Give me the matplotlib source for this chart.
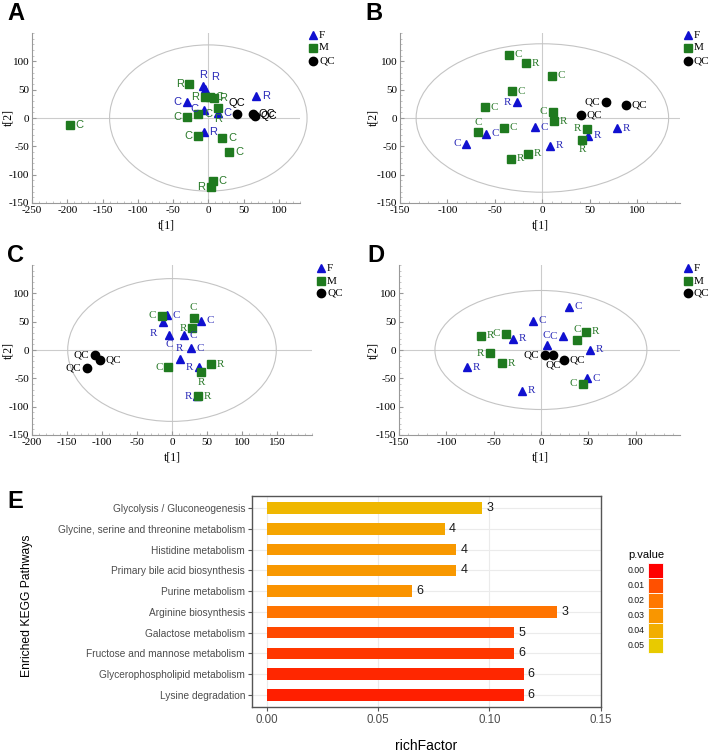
import matplotlib
matplotlib.use("Agg")
import matplotlib.pyplot as plt
from matplotlib.patches import Ellipse, Rectangle
from matplotlib.lines import Line2D
from matplotlib.ticker import MultipleLocator
from matplotlib.colors import LinearSegmentedColormap

plt.rcParams["axes.unicode_minus"] = False

# ---- score plot data (t[1], t[2], label, label side) ----
a_f_x = [-8, -4, -30, -5.5, 13.5, -6.5, 68]
a_f_y = [57, 51, 28, 15, 8, -24, 38]
a_f_lab = ["R", "R", "C", "C", "C", "R", "R"]
a_f_side = ["a", "ar", "l", "l", "r", "r", "r"]
a_m_x = [-196, -27, -30.5, -14, -5, 2, 8, 13.5, -14, 20, 30, 6, 4]
a_m_y = [-13, 60, 1, 7, 37, 37, 35, 17, -31, -35, -60, -112, -122]
a_m_lab = ["C", "R", "C", "C", "R", "C", "R", "R", "C", "C", "C", "C", "R"]
a_m_side = ["r", "l", "l", "r", "l", "r", "r", "b", "l", "r", "r", "r", "l"]
a_qc_x = [40, 63, 66]
a_qc_y = [7, 7, 4]
a_qc_lab = ["QC", "QC", "QC"]
a_qc_side = ["a", "r", "r"]

b_f_x = [-27, -8, -59, -80, 8, 48, 79]
b_f_y = [28, -16, -28, -45, -49, -31, -18]
b_f_lab = ["R", "C", "C", "C", "R", "R", "R"]
b_f_side = ["l", "r", "r", "l", "r", "r", "r"]
b_m_x = [-35, -17, 10, -32, -60, 11, 12, -40, -68, 47, 42, -15, -33]
b_m_y = [112, 97, 75, 47, 19, 11, -6, -17, -25, -19, -38, -63, -72]
b_m_lab = ["C", "R", "C", "C", "C", "C", "R", "C", "C", "R", "R", "R", "R"]
b_m_side = ["r", "r", "r", "r", "r", "l", "r", "r", "a", "l", "b", "r", "r"]
b_qc_x = [67, 88, 41]
b_qc_y = [29, 23, 6]
b_qc_lab = ["QC", "QC", "QC"]
b_qc_side = ["l", "r", "r"]

c_f_x = [-6.6, -13, -4, 17, 41, 27, 11, 38, 36]
c_f_y = [61, 50, 27, 26, 52, 3, -15, -30, -82]
c_f_lab = ["C", "R", "C", "C", "C", "C", "R", "R", "R"]
c_f_side = ["r", "bl", "b", "r", "r", "r", "a", "l", "l"]
c_m_x = [-14.5, 31, 29, -5.6, 56, 42, 37]
c_m_y = [60, 57, 38, -30, -25, -39, -82]
c_m_lab = ["C", "C", "R", "C", "R", "R", "R"]
c_m_side = ["l", "a", "l", "l", "r", "b", "r"]
c_qc_x = [-110, -103, -122]
c_qc_y = [-9, -18, -32]
c_qc_lab = ["QC", "QC", "QC"]
c_qc_side = ["l", "r", "l"]

d_f_x = [30, -8, -29, 6, 23, 52, -78, 49, -20]
d_f_y = [76, 52, 20, 8, 24, 0, -30, -50, -72]
d_f_lab = ["C", "C", "R", "C", "C", "R", "R", "C", "R"]
d_f_side = ["r", "r", "r", "a", "l", "r", "r", "r", "r"]
d_m_x = [-63, -37, -54, -41, 38, 47.5, 44]
d_m_y = [25, 29, -6, -23, 18, 32, -60]
d_m_lab = ["R", "C", "R", "R", "C", "R", "C"]
d_m_side = ["r", "l", "l", "r", "a", "r", "l"]
d_qc_x = [4, 13, 24]
d_qc_y = [-9, -9, -18]
d_qc_lab = ["QC", "QC", "QC"]
d_qc_side = ["l", "b", "r"]

groups = ["F", "M", "QC"]

# ---- KEGG enrichment data ----
pathways = ["Glycolysis / Gluconeogenesis",
            "Glycine, serine and threonine metabolism",
            "Histidine metabolism",
            "Primary bile acid biosynthesis",
            "Purine metabolism",
            "Arginine biosynthesis",
            "Galactose metabolism",
            "Fructose and mannose metabolism",
            "Glycerophospholipid metabolism",
            "Lysine degradation"]
rich_factor = [0.0968, 0.0800, 0.0851, 0.0851, 0.0652, 0.1304, 0.1111, 0.1111, 0.1154, 0.1154]
counts = [3, 4, 4, 4, 6, 3, 5, 6, 6, 6]
p_values = [0.043, 0.036, 0.031, 0.031, 0.029, 0.019, 0.009, 0.007, 0.005, 0.004]
legend_p = [0.00, 0.01, 0.02, 0.03, 0.04, 0.05]

W, H = 709, 752
fig = plt.figure(figsize=(W / 100, H / 100), dpi=100)


def px_axes(l, t, r, b):
    return fig.add_axes([l / W, 1 - b / H, (r - l) / W, (b - t) / H])


def fx(x):
    return x / W


def fy(y):
    return 1 - y / H


SERIF = ["Liberation Serif", "DejaVu Serif"]
SANS = ["Liberation Sans", "DejaVu Sans"]
BLUE = "#1010d0"
GREEN = "#1f7a1f"
offsets = {"r": (4, 0, "left", "center"), "l": (-4, 0, "right", "center"),
           "a": (0, 4, "center", "bottom"), "b": (0, -4, "center", "top"),
           "ar": (4, 5, "left", "bottom"), "bl": (-4, -5, "right", "top")}
styles = {"F": ("^", BLUE, "#2a2ab8", 5.5),
          "M": ("s", GREEN, "#2a7a2a", 5.8),
          "QC": ("o", "black", "black", 6.0)}


def score_panel(box, xlim, xticks, ell, data, letter, letter_xy, t1_xy, t2_xy,
                leg_x, leg_y, lab_family):
    ax = px_axes(*box)
    ax.set_xlim(xlim)
    ax.set_ylim(-150, 150)
    ax.axhline(0, color="#cccccc", lw=0.8, zorder=0)
    ax.axvline(0, color="#cccccc", lw=0.8, zorder=0)
    ax.add_patch(Ellipse((0, 0), 2 * ell[0], 2 * ell[1], fill=False,
                         ec="#c4c4c4", lw=0.8, zorder=0, clip_on=False))
    for g, (xs, ys, labs, sides) in zip(groups, data):
        mk, col, tcol, ms = styles[g]
        ax.plot(xs, ys, mk, color=col, ms=ms, ls="none", zorder=3)
        for x, y, lab, s in zip(xs, ys, labs, sides):
            dx, dy, ha, va = offsets[s]
            ax.annotate(lab, (x, y), xytext=(dx, dy), textcoords="offset points",
                        ha=ha, va=va, fontsize=8, color=tcol,
                        family=lab_family, zorder=4)
    for sp in ["top", "right"]:
        ax.spines[sp].set_visible(False)
    for sp in ["left", "bottom"]:
        ax.spines[sp].set_color("#999999")
        ax.spines[sp].set_linewidth(0.8)
    ax.set_xticks(xticks)
    ax.set_yticks([-150, -100, -50, 0, 50, 100])
    ax.xaxis.set_minor_locator(MultipleLocator(10))
    ax.yaxis.set_minor_locator(MultipleLocator(10))
    ax.tick_params(which="major", direction="in", length=3, color="#999999",
                   labelsize=8, pad=2)
    ax.tick_params(which="minor", direction="in", length=1.5, color="#bbbbbb")
    for t in ax.get_xticklabels() + ax.get_yticklabels():
        t.set_family(SERIF)
    fig.text(fx(letter_xy[0]), fy(letter_xy[1]), letter, fontsize=17,
             fontweight="bold", family=SANS, ha="left", va="top")
    fig.text(fx(t1_xy[0]), fy(t1_xy[1]), "t[1]", fontsize=8.5, family=SERIF,
             ha="center", va="center")
    fig.text(fx(t2_xy[0]), fy(t2_xy[1]), "t[2]", fontsize=8.5, family=SERIF,
             ha="center", va="center", rotation=90)
    for g, yy in zip(groups, leg_y):
        mk, col, tcol, ms = styles[g]
        fig.add_artist(Line2D([fx(leg_x)], [fy(yy)], marker=mk, color=col,
                              ms=ms, ls="none", transform=fig.transFigure))
        fig.text(fx(leg_x + 6), fy(yy), g, fontsize=8, family=SERIF,
                 ha="left", va="center")
    return ax


score_panel((32, 33, 300, 203), (-250, 130), range(-250, 101, 50), (140, 129),
            [(a_f_x, a_f_y, a_f_lab, a_f_side), (a_m_x, a_m_y, a_m_lab, a_m_side),
             (a_qc_x, a_qc_y, a_qc_lab, a_qc_side)],
            "A", (7, 2), (166, 226), (8, 118), 313, (35, 48, 61), SANS)
score_panel((400, 33, 680, 203), (-150, 145), range(-150, 101, 50), (133, 131),
            [(b_f_x, b_f_y, b_f_lab, b_f_side), (b_m_x, b_m_y, b_m_lab, b_m_side),
             (b_qc_x, b_qc_y, b_qc_lab, b_qc_side)],
            "B", (365, 2), (540, 226), (373, 118), 688, (35, 48, 61), SERIF)
score_panel((32, 265, 312, 435), (-200, 200), range(-200, 151, 50), (149, 126),
            [(c_f_x, c_f_y, c_f_lab, c_f_side), (c_m_x, c_m_y, c_m_lab, c_m_side),
             (c_qc_x, c_qc_y, c_qc_lab, c_qc_side)],
            "C", (7, 244), (172, 457), (8, 350), 321, (268, 281, 293), SERIF)
score_panel((399, 265, 680, 435), (-150, 147), range(-150, 101, 50), (112, 105),
            [(d_f_x, d_f_y, d_f_lab, d_f_side), (d_m_x, d_m_y, d_m_lab, d_m_side),
             (d_qc_x, d_qc_y, d_qc_lab, d_qc_side)],
            "D", (367, 244), (540, 457), (373, 350), 688, (268, 281, 293), SERIF)

# ---- panel E ----
cmap = LinearSegmentedColormap.from_list(
    "pv", ["#ff0000", "#ff5000", "#ff7800", "#f99600", "#f2ae00", "#e8ca00"])

axe = px_axes(252, 496, 601, 707)
n = len(pathways)
ypos = list(range(n - 1, -1, -1))
bar_cols = [cmap(p / 0.05) for p in p_values]
axe.barh(ypos, rich_factor, height=0.55, color=bar_cols, zorder=2)
for y, v, c in zip(ypos, rich_factor, counts):
    axe.annotate(str(c), (v, y), xytext=(3, 0), textcoords="offset points",
                 ha="left", va="center", fontsize=9, family=SANS, color="#1a1a1a")
axe.set_xlim(-0.0068, 0.1502)
axe.set_ylim(-0.58, n - 1 + 0.58)
axe.set_yticks(ypos)
axe.set_yticklabels(pathways, family=SANS, fontsize=7.3, color="#4d4d4d")
axe.set_xticks([0.0, 0.05, 0.10, 0.15])
axe.set_xticklabels(["0.00", "0.05", "0.10", "0.15"], family=SANS,
                    fontsize=8.3, color="#4d4d4d")
axe.grid(color="#ebebeb", lw=0.8)
axe.set_axisbelow(True)
for sp in axe.spines.values():
    sp.set_color("#555555")
    sp.set_linewidth(1.0)
axe.tick_params(length=3, color="#555555", pad=2)

fig.text(fx(7), fy(490), "E", fontsize=17, fontweight="bold", family=SANS,
         ha="left", va="top")
fig.text(fx(27), fy(606), "Enriched KEGG Pathways", fontsize=8.7, family=SANS,
         rotation=90, ha="center", va="center")
fig.text(fx(426), fy(746), "richFactor", fontsize=10, family=SANS,
         ha="center", va="center")

fig.text(fx(628), fy(555), "p.value", fontsize=8, family=SANS,
         ha="left", va="center")
for i, p in enumerate(legend_p):
    top = 563 + 15 * i
    fig.add_artist(Rectangle((fx(648), fy(top + 15)), 15 / W, 15 / H,
                             transform=fig.transFigure, fc=cmap(p / 0.05),
                             ec="white", lw=0.6))
    fig.text(fx(628), fy(top + 7.5), "%.2f" % p, fontsize=6.3, family=SANS,
             ha="left", va="center", color="#1a1a1a")

fig.savefig("out.png", dpi=100)
